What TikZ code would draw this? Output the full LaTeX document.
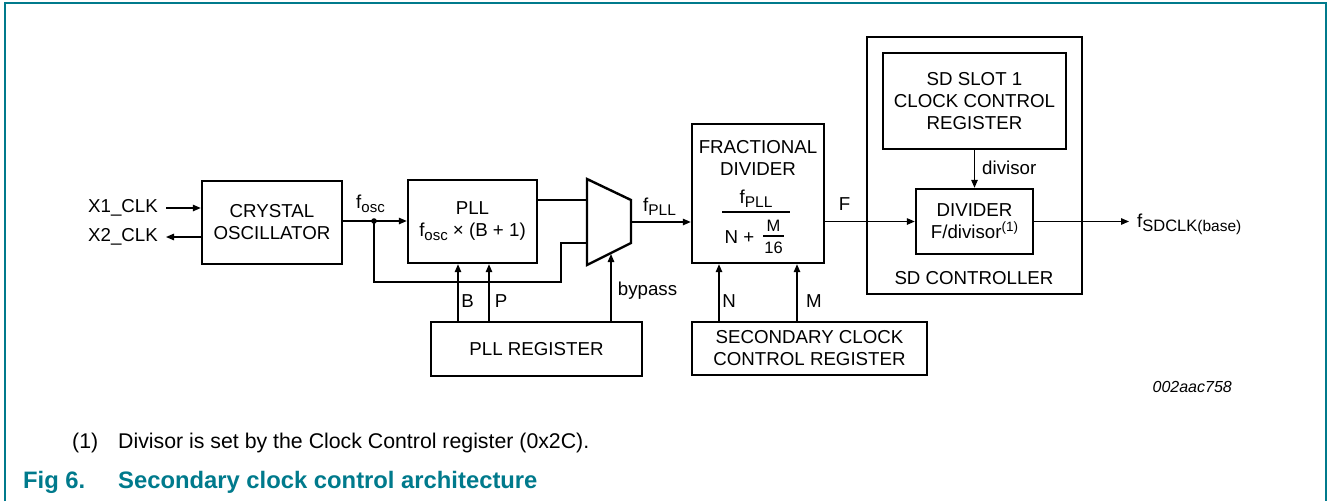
\documentclass[tikz,border=0pt]{standalone}
\usepackage{fontspec}
\setmainfont{Liberation Sans}
\usetikzlibrary{arrows.meta}
\definecolor{nxpteal}{RGB}{0,122,140}
\newcommand{\sbs}[2][15]{\raisebox{-0.2em}{\fontsize{#1}{#1}\selectfont #2}}
\newcommand{\sps}[1]{\raisebox{0.4em}{\fontsize{13.5}{13.5}\selectfont #1}}
\newcommand{\lblfont}{\fontsize{18.7}{22}\selectfont}
\begin{document}
\begin{tikzpicture}[x=1pt,y=-1pt,
  lbl/.style={font=\lblfont, inner sep=0pt, align=center},
  blk/.style={draw, line width=2.4pt, inner sep=0pt, align=center, font=\lblfont},
  wire/.style={line width=1.3pt},
  arr/.style={wire, -{Triangle[length=8pt,width=6.5pt]}}]
\useasboundingbox (0,0) rectangle (1328,501);
\draw[nxpteal, line width=1.5pt] (5,501) -- (5,3) -- (1326,3) -- (1326,501);

% blocks
\node[blk, minimum width=140pt, minimum height=83pt] (xtal) at (272,222.5) {CRYSTAL\\OSCILLATOR};
\node[lbl, anchor=east] (x1) at (158,208) {X1\_CLK};
\node[lbl, anchor=east] (x2) at (158,237) {X2\_CLK};
\node[blk, minimum width=129pt, minimum height=83pt] (pll) at (472.5,221.5) {PLL\\f\sbs{osc} × (B + 1)};
\node[blk, minimum width=211pt, minimum height=54pt] (pllreg) at (536.5,349) {PLL REGISTER};
\draw[line width=2.4pt, line join=miter] (587,179) -- (631,200) -- (631,243) -- (587,265) -- cycle;
\coordinate (muxA) at (587,200);
\coordinate (muxB) at (587,243);
\coordinate (muxO) at (631,222);
\coordinate (muxS) at (611,254);

\node[blk, minimum width=132pt, minimum height=139pt] (frac) at (758,193.5) {};
\node[lbl] (fr1) at (758,147) {FRACTIONAL};
\node[lbl] (fr2) at (758,169) {DIVIDER};
\node[lbl] (fr3) at (756,199) {f\sbs[15.5]{PLL}};
\draw[line width=1.2pt] (722,212) -- (790,212);
\node[lbl] (fr4) at (739.5,237) {N +};
\node[lbl, font=\fontsize{16.5}{18}\selectfont] (fr5) at (773.5,226) {M};
\draw[line width=1.1pt] (763,236) -- (784,236);
\node[lbl, font=\fontsize{16.5}{18}\selectfont] (fr6) at (773.5,248) {16};

\node[blk, minimum width=235pt, minimum height=53pt] (secreg) at (809.5,348.5) {SECONDARY CLOCK\\CONTROL REGISTER};
\node[blk, minimum width=215pt, minimum height=257pt] (sdc) at (974.5,165.5) {};
\node[lbl] (sdcl) at (974,278.5) {SD CONTROLLER};
\node[blk, minimum width=183pt, minimum height=96pt] (slot) at (974.5,101) {SD SLOT 1\\CLOCK CONTROL\\REGISTER};
\node[blk, minimum width=117pt, minimum height=65pt] (div) at (974.5,221.5) {DIVIDER\\F/divisor\sps{(1)}};

% labels
\node[lbl] (fosc) at (370.5,204) {f\sbs{osc}};
\node[lbl] (fpll) at (659.5,207) {f\sbs[15.5]{PLL}};
\node[lbl] (lB) at (467.5,301.5) {B};
\node[lbl] (lP) at (501,301.5) {P};
\node[lbl] (lby) at (647.5,291) {bypass};
\node[lbl] (lN) at (729,301.5) {N};
\node[lbl] (lM) at (814,301.5) {M};
\node[lbl] (lF) at (844.5,204) {F};
\node[lbl, anchor=west] (ldiv) at (982,168) {divisor};
\node[lbl, anchor=west] (lsd) at (1137,224) {f\raisebox{-0.2em}{\fontsize{16.5}{16.5}\selectfont SDCLK\fontsize{15.5}{15.5}\selectfont(base)}};
\node[lbl, anchor=east, font=\fontsize{16}{18}\selectfont\itshape] (code) at (1232,387) {002aac758};

% wires
\draw[arr] ([xshift=8pt]x1.east) -- (x1.east -| xtal.west);
\draw[arr] (x2.east -| xtal.west) -- ([xshift=8pt]x2.east);
\coordinate (dot) at (374,221);
\draw[arr] (xtal.east |- dot) -- (pll.west |- dot);
\fill (dot) circle (2.8pt);
\coordinate (bend) at (561,282);
\draw[wire] (dot) |- (bend) |- (muxB);
\draw[wire] (pll.east |- muxA) -- (muxA);
\draw[arr] (muxO) -- (muxO -| frac.west);
\draw[arr] ([xshift=-78.5pt]pllreg.north) -- ([xshift=-14.5pt]pll.south);
\draw[arr] ([xshift=-47.5pt]pllreg.north) -- ([xshift=16.5pt]pll.south);
\draw[arr] (pllreg.north -| muxS) -- (muxS);
\draw[arr] ([xshift=-90.5pt]secreg.north) -- ([xshift=-39pt]frac.south);
\draw[arr] ([xshift=-12.5pt]secreg.north) -- ([xshift=39pt]frac.south);
\draw[arr] (frac.east |- div.west) -- (div.west);
\draw[arr] (slot.south) -- (div.north);
\coordinate (outend) at (1129,221.5);
\draw[arr] (div.east) -- (outend);

% footnote and caption
\node[font=\fontsize{21.3}{24}\selectfont, anchor=base west, inner sep=0pt] (fn1) at (72,448) {(1)};
\node[font=\fontsize{21.3}{24}\selectfont, anchor=base west, inner sep=0pt] (fn2) at (118,448) {Divisor is set by the Clock Control register (0x2C).};
\node[font=\fontsize{23.8}{27}\selectfont\bfseries, text=nxpteal, anchor=base west, inner sep=0pt] (cap1) at (23,488) {Fig 6.};
\node[font=\fontsize{23.8}{27}\selectfont\bfseries, text=nxpteal, anchor=base west, inner sep=0pt] (cap2) at (118,488) {Secondary clock control architecture};
\end{tikzpicture}
\end{document}
